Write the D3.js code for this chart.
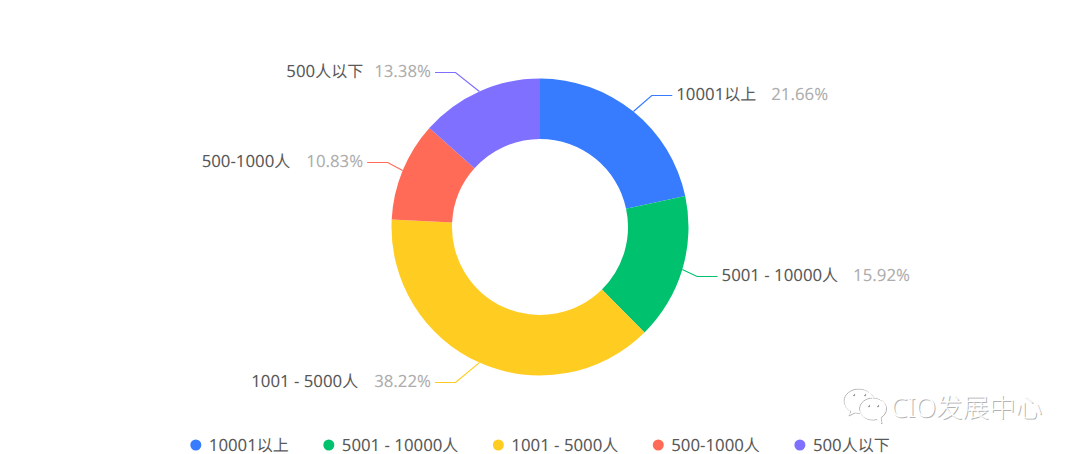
<!DOCTYPE html>
<html><head><meta charset="utf-8">
<script src="https://cdn.jsdelivr.net/npm/d3@7/dist/d3.min.js"></script>
<style>
@font-face{font-family:"LatinWide";src:local("Noto Sans"),local("NotoSans-Regular");size-adjust:105%;unicode-range:U+0020-007E}
html,body{margin:0;padding:0;background:#fff}
svg{display:block}
text{font-family:"LatinWide","Noto Sans CJK SC","Noto Sans",sans-serif;text-rendering:geometricPrecision}
text.wm{font-family:"Noto Sans","Noto Sans CJK SC",sans-serif}
</style></head><body>
<svg id="c" width="1080" height="454"></svg>
<script>
const categories = ["10001以上","5001 - 10000人","1001 - 5000人","500-1000人","500人以下"];
const shares = [21.66,15.92,38.22,10.83,13.38];
const colours = ["#377BFF","#00C16E","#FFCD22","#FF6B57","#7F70FF"];
const watermark = "CIO发展中心";
const labelGaps = [15,15,16,16,11];

const W=1080,H=454,cx=540,cy=227,rOuter=148.5,rInner=88,rLabel=170,fs=16;
const svg=d3.select("#c");
const color=d3.scaleOrdinal(categories,colours);
const rows=categories.map((name,i)=>({name,value:shares[i],gap:labelGaps[i]}));
const pie=d3.pie().value(d=>d.value).sort(null);
const arc=d3.arc().innerRadius(rInner).outerRadius(rOuter);
const arcs=pie(rows);

function draw(){
const g=svg.append("g").attr("transform",`translate(${cx},${cy})`);
g.selectAll("path.s").data(arcs).join("path").attr("class","s")
  .attr("d",arc).attr("fill",d=>color(d.data.name));

arcs.forEach(d=>{
  const a=(d.startAngle+d.endAngle)/2, s=Math.sin(a), c=Math.cos(a), dir=s>=0?1:-1;
  const x0=rOuter*s, y0=-rOuter*c;
  const y1=Math.round(-rLabel*c)+0.5;
  const x1=x0+dir*(8+6.5/Math.abs(s));
  const x2=x1+dir*20.5;
  g.append("path").attr("fill","none").attr("stroke",color(d.data.name)).attr("stroke-width",1.2)
   .attr("d",d3.line()([[x0,y0],[x1,y1],[x2,y1]]));
  const lab=g.append("text").attr("y",y1-1.5).attr("dy","0.35em").attr("font-size",fs)
    .attr("x",x2+dir*4).attr("text-anchor",dir>0?"start":"end");
  lab.append("tspan").attr("fill","#595959").text(d.data.name);
  lab.append("tspan").attr("fill","#ADADAD").attr("dx",d.data.gap).text(d.data.value.toFixed(2)+"%");
});

// legend
const legY=445;
const leg=svg.append("g");
const items=categories.map(n=>{
  const it=leg.append("g");
  it.append("circle").attr("r",5.5).attr("cy",legY).attr("fill",color(n));
  const t=it.append("text").attr("x",13).attr("y",legY).attr("dy","0.35em").attr("font-size",fs).attr("fill","#595959").text(n);
  return {it,w:t.node().getComputedTextLength()};
});
const gap=40;
const total=d3.sum(items,d=>d.w+13)+5.5+gap*(items.length-1);
let x=(W-total)/2+5.5;
items.forEach(o=>{o.it.attr("transform",`translate(${x},0)`);x+=o.w+13+gap;});

// watermark
const wm=svg.append("g");
const bubbleA="M858 388c-8.300 0-15 5.500-15 12.200 0 4.300 2.700 8 6.800 10.200l-1.800 4.600 6.200-3.200c1.200.3 2.400.4 3.800.5 1.500 0 3-.2 4.300-.6 C873 408 873 404 873 400.200 873 393.500 866.300 388 858 388z";
const bubbleB="M872 397c-7.500 0-13.500 5-13.500 11s6 11 13.500 11c1.500 0 3-.2 4.300-.6l4.700 4.600-1-6.300c3.300-2 5.500-5.200 5.500-8.700 0-6-6-11-13.500-11z";
[[1,1,"#b4b4b4"],[0,0,"#ffffff"]].forEach(([dx,dy,col])=>{
  const l=wm.append("g").attr("transform",`translate(${dx},${dy})`);
  [bubbleA,bubbleB].forEach(p=>l.append("path").attr("d",p).attr("fill",dx?"#fff":"none").attr("stroke",col).attr("stroke-width",1));
  [[853,394],[864,394],[868,405],[877,405]].forEach(p=>l.append("circle").attr("cx",p[0]).attr("cy",p[1]).attr("r",1.2).attr("fill",dx?"#999":"#fff"));
  l.append("text").attr("class","wm").attr("x",891).attr("y",417).attr("font-size",26.500).attr("font-weight",300)
    .attr("fill",col).text(watermark);
});
}
(document.fonts&&document.fonts.load?Promise.all([document.fonts.load("16px LatinWide","0"),document.fonts.ready]):Promise.resolve()).then(draw,draw);
</script></body></html>
